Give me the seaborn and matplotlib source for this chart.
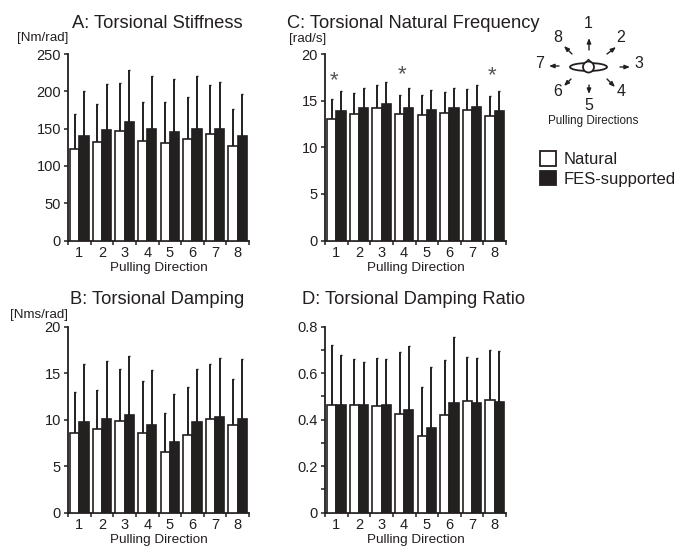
import numpy as np
import pandas as pd
import matplotlib
matplotlib.use("Agg")
import matplotlib.pyplot as plt
from matplotlib.patches import Patch, Ellipse, Circle
import seaborn as sns

W, H = 678, 547
INK = "#231f20"
directions = ["1", "2", "3", "4", "5", "6", "7", "8"]
conditions = ["Natural", "FES-supported"]

a_nat = [123, 132, 147, 133, 131, 136, 143, 127]
a_fes = [140, 148, 159, 150, 146, 150, 150, 140]
a_nat_top = [169, 183, 211, 185, 185, 192, 209, 176]
a_fes_top = [200, 210, 228, 220, 217, 221, 213, 196]

b_nat = [8.6, 9.05, 9.85, 8.6, 6.55, 8.4, 10.05, 9.4]
b_fes = [9.7, 10.05, 10.55, 9.45, 7.55, 9.75, 10.25, 10.05]
b_nat_top = [13.0, 13.2, 15.5, 14.2, 10.7, 13.5, 15.95, 14.4]
b_fes_top = [16.0, 16.3, 16.8, 15.3, 12.8, 15.5, 16.6, 16.5]

c_nat = [13.05, 13.6, 14.25, 13.55, 13.45, 13.7, 13.95, 13.3]
c_fes = [13.85, 14.2, 14.6, 14.25, 14.0, 14.2, 14.35, 13.9]
c_nat_top = [15.15, 15.85, 16.65, 15.6, 15.55, 15.9, 16.2, 15.45]
c_fes_top = [16.0, 16.4, 16.95, 16.4, 16.1, 16.35, 16.7, 16.05]
c_star_groups = [0, 3, 7]
c_star_levels = [17.1, 17.8, 17.7]

d_nat = [0.465, 0.465, 0.46, 0.425, 0.33, 0.42, 0.48, 0.485]
d_fes = [0.465, 0.465, 0.465, 0.44, 0.365, 0.47, 0.47, 0.475]
d_nat_top = [0.72, 0.66, 0.665, 0.69, 0.54, 0.655, 0.67, 0.70]
d_fes_top = [0.68, 0.65, 0.66, 0.715, 0.625, 0.755, 0.665, 0.695]

sns.set_theme(style="ticks")
plt.rcParams["font.family"] = ["Liberation Sans", "DejaVu Sans"]
plt.rcParams["text.color"] = INK
plt.rcParams["axes.labelcolor"] = INK
plt.rcParams["xtick.color"] = INK
plt.rcParams["ytick.color"] = INK

fig = plt.figure(figsize=(W / 100, H / 100), dpi=100, facecolor="white")


def add_ax(left, right, top, bottom):
    return fig.add_axes([left / W, 1 - bottom / H, (right - left) / W, (bottom - top) / H])


def panel(box, nat, fes, nat_top, fes_top, ymax, yticks, yfmt, minor=None):
    ax = add_ax(*box)
    df = pd.DataFrame({
        "direction": directions * 2,
        "condition": [conditions[0]] * 8 + [conditions[1]] * 8,
        "value": list(nat) + list(fes),
    })
    sns.barplot(data=df, x="direction", y="value", hue="condition",
                order=directions, hue_order=conditions,
                palette={conditions[0]: "white", conditions[1]: INK},
                edgecolor=INK, linewidth=1.2, width=0.82, gap=0,
                errorbar=None, legend=False, ax=ax, zorder=3)
    for cont, vals, tops in zip(ax.containers, (nat, fes), (nat_top, fes_top)):
        xs = [b.get_x() + b.get_width() / 2 for b in cont]
        up = np.array(tops) - np.array(vals)
        ax.errorbar(xs, vals, yerr=[np.zeros(8), up], fmt="none", ecolor=INK,
                    elinewidth=1.4, capsize=0.8, capthick=1.0, zorder=2)
    ax.set_xlim(-0.5, 7.5)
    ax.set_ylim(0, ymax)
    ax.set_xlabel("")
    ax.set_ylabel("")
    ax.set_yticks(yticks)
    ax.set_yticklabels([yfmt(t) for t in yticks], fontsize=10.5)
    ax.set_xticks(range(8))
    ax.set_xticklabels(directions, fontsize=10.5)
    ax.set_xticks(np.arange(-0.5, 8, 1), minor=True)
    ax.tick_params(axis="x", which="major", length=0, pad=4)
    ax.tick_params(axis="x", which="minor", length=3, width=1.1)
    ax.tick_params(axis="y", which="major", length=3, width=1.1, pad=2)
    if minor is not None:
        ax.set_yticks(minor, minor=True)
        ax.tick_params(axis="y", which="minor", length=3, width=1.1)
    sns.despine(ax=ax)
    for s in ("left", "bottom"):
        ax.spines[s].set_linewidth(1.3)
        ax.spines[s].set_color(INK)
    ax.patch.set_alpha(0)
    return ax


fmt_int = lambda t: f"{t:g}"
axA = panel((68, 249, 54, 240.5), a_nat, a_fes, a_nat_top, a_fes_top, 250,
            [0, 50, 100, 150, 200, 250], fmt_int)
axC = panel((325, 506, 54, 240.5), c_nat, c_fes, c_nat_top, c_fes_top, 20,
            [0, 5, 10, 15, 20], fmt_int)
axB = panel((68, 249, 326.7, 512.7), b_nat, b_fes, b_nat_top, b_fes_top, 20,
            [0, 5, 10, 15, 20], fmt_int)
axD = panel((325, 506, 326.7, 512.7), d_nat, d_fes, d_nat_top, d_fes_top, 0.8,
            [0, 0.2, 0.4, 0.6, 0.8], fmt_int, minor=[0.1, 0.3, 0.5, 0.7])

for g, lv in zip(c_star_groups, c_star_levels):
    axC.text(g - 0.1, lv, "*", ha="center", va="center", fontsize=16, color="#555555")

# overlay in pixel coordinates for free-standing labels and the schematic
ov = fig.add_axes([0, 0, 1, 1], facecolor="none")
ov.set_xlim(0, W)
ov.set_ylim(H, 0)
ov.axis("off")

titles = [("A: Torsional Stiffness", 72, 23), ("C: Torsional Natural Frequency", 287, 23),
          ("B: Torsional Damping", 70, 299), ("D: Torsional Damping Ratio", 302, 299)]
for s, x, y in titles:
    ov.text(x, y, s, fontsize=13.2, ha="left", va="center")
units = [("[Nm/rad]", 68, 38.5), ("[rad/s]", 326, 39), ("[Nms/rad]", 68, 315)]
for s, x, y in units:
    ov.text(x, y, s, fontsize=9.6, ha="right", va="center")
xlabs = [(159, 268), (416, 268), (159, 539.5), (416, 539.5)]
for x, y in xlabs:
    ov.text(x, y, "Pulling Direction", fontsize=9.7, ha="center", va="center", clip_on=False)

# schematic of pulling directions
cx, cy = 588.5, 67
ov.add_patch(Ellipse((cx, cy), 37, 8, fc="white", ec=INK, lw=1.3))
ov.add_patch(Circle((cx, cy), 5.5, fc="white", ec=INK, lw=1.3))
ov.plot([cx - 2.5, cx, cx + 2.5], [cy - 5, cy - 7.5, cy - 5], color=INK, lw=1)
num_pos = {"1": (588, 23), "2": (621, 37), "3": (639, 64), "4": (621, 92),
           "5": (589, 105), "6": (558, 92), "7": (540, 64), "8": (558, 37)}
arrows = {"1": ((589, 50), (589, 38)), "2": ((607, 54), (616, 47)), "3": ((620, 67), (630, 67)),
          "4": ((607, 79), (615, 87)), "5": ((589, 85), (589, 94)), "6": ((571, 79), (564, 86)),
          "7": ((559, 66), (549, 66)), "8": ((572, 54), (564, 46))}
for k in directions:
    ov.text(*num_pos[k], k, fontsize=11.5, ha="center", va="center")
    ov.annotate("", xy=arrows[k][1], xytext=arrows[k][0], xycoords="data", textcoords="data",
                arrowprops=dict(arrowstyle="-|>,head_width=0.1,head_length=0.25", color=INK, lw=1,
                                shrinkA=0, shrinkB=0))
ov.text(593.5, 121, "Pulling Directions", fontsize=8.4, ha="center", va="center")

handles = [Patch(fc="white", ec=INK, lw=1.3, label=conditions[0]),
           Patch(fc=INK, ec=INK, lw=1.3, label=conditions[1])]
fig.legend(handles=handles, loc="upper left", bbox_to_anchor=(540 / W, 1 - 151 / H),
           frameon=False, fontsize=12.0, handlelength=0.97, handleheight=0.97,
           handletextpad=0.45, labelspacing=0.22, borderpad=0, borderaxespad=0)

fig.savefig("out.png", dpi=100, facecolor="white")
